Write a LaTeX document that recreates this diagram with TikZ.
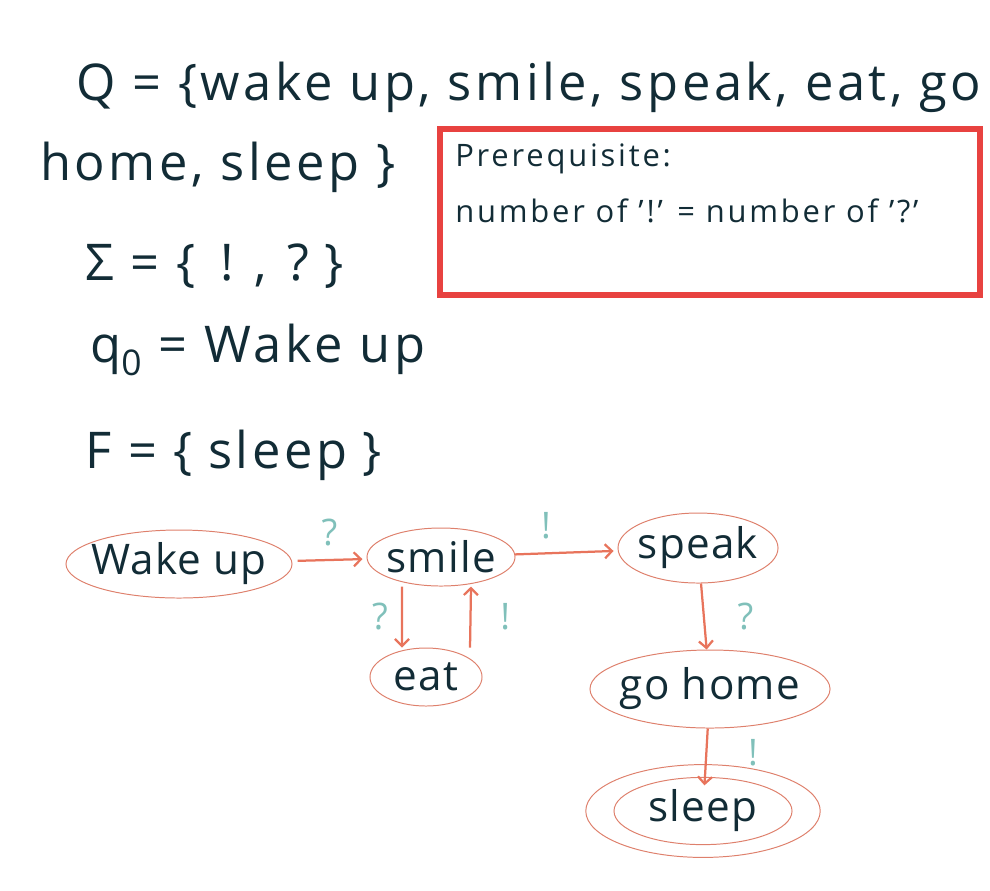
\documentclass[tikz,border=0pt]{standalone}
\usepackage{fontspec}
\setmainfont{Open Sans}
\usepackage{tikz}
\usetikzlibrary{positioning,shapes.geometric,arrows.meta}
\usepackage{xcolor}

\definecolor{ink}{RGB}{18,44,54}
\definecolor{boxred}{RGB}{232,66,64}
\definecolor{arrowred}{RGB}{232,116,92}
\definecolor{rimred}{RGB}{222,128,108}
\definecolor{symteal}{RGB}{128,192,186}

\tikzset{
  defline/.style={anchor=base west, text=ink, inner sep=0pt, font=\fontsize{36}{42}\selectfont\addfontfeatures{LetterSpace=7}},
  boxline/.style={anchor=base west, text=ink, inner sep=0pt, font=\fontsize{22}{26}\selectfont\addfontfeatures{LetterSpace=9}},
  state/.style={ellipse, draw=rimred, line width=0.7pt, text=ink, inner xsep=-1cm, inner ysep=-0.4cm, font=\fontsize{30}{36}\selectfont\addfontfeatures{LetterSpace=3}},
  trans/.style={->, draw=arrowred, line width=1.6pt},
  sym/.style={text=symteal, font=\fontsize{26}{30}\selectfont},
}

\begin{document}
\begin{tikzpicture}[x=0.025cm, y=-0.025cm, >={Straight Barb[length=5pt, width=10pt]}]
            \useasboundingbox (0,0) rectangle (990,890);
            % 定义
            \node[defline] (setq) at (76,100) {Q = \{wake up, smile, speak, eat, go};
            \node[defline] (setq2) at (40,180) {home, sleep \}};
            \node[defline] (sigma) at (85,280) {Σ = \{\hspace{0.5em}!\hspace{0.4em},\hspace{0.4em}?\hspace{0.3em}\}};
            \node[defline] (init) at (90,362) {q\textsubscript{0} = Wake up};
            \node[defline] (final) at (85,468) {F = \{\hspace{0.3em}sleep\hspace{0.3em}\}};
            
            % 前提条件
            \draw[boxred, line width=4.3pt] (440,129) rectangle (980,295);
            \node[boxline] (pre) at (455,166) {Prerequisite:};
            \node[boxline] (count) at (455,222) {number of '!' = number of '?'};
            
            % 状态
            \node[state, minimum width=5.65cm, minimum height=1.7cm] (wakeup) at (179,564) {Wake up};
            \node[state, minimum width=3.7cm, minimum height=1.45cm] (smile) at (441,557) {smile};
            \node[state, minimum width=4.0cm, minimum height=1.75cm] (speak) at (698,548) {speak};
            \node[state, minimum width=2.8cm, minimum height=1.45cm] (eat) at (426,677) {eat};
            \node[state, minimum width=6.0cm, minimum height=1.95cm] (gohome) at (710,689) {go home};
            \node[state, minimum width=4.45cm, minimum height=1.68cm] (sleep) at (703,811) {sleep};
            \draw[rimred, line width=0.7pt] (sleep.center) ellipse (2.93cm and 1.16cm);
            
            % 转移
            \draw[trans, shorten <=4pt, shorten >=3pt] (wakeup) -- node[sym, midway, above=6pt] {?} (smile);
            \draw[trans, shorten >=3pt] (smile) -- node[sym, pos=0.3, above=6pt] {!} (speak);
            \draw[trans] ([xshift=-0.975cm]smile.south) -- node[sym, midway, left=6pt] {?} ([xshift=-0.6cm]eat.north);
            \draw[trans] ([xshift=1.1cm]eat.north) -- node[sym, midway, right=0.6cm] {!} ([xshift=0.75cm]smile.south);
            \draw[trans] (speak) -- node[sym, midway, right=0.7cm] {?} (gohome);
            \draw[trans, shorten >=-6pt] (gohome) -- node[sym, midway, right=0.9cm] {!} (sleep);
        \end{tikzpicture}
\end{document}
